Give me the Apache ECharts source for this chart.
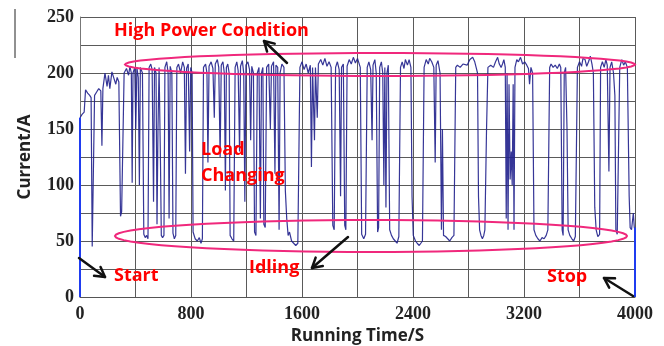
<!DOCTYPE html>
<html>
<head>
<meta charset="utf-8">
<script src="https://cdn.jsdelivr.net/npm/echarts@6/dist/echarts.min.js"></script>
<style>
  html, body { margin: 0; padding: 0; background: #fff; }
  #chart { width: 664px; height: 346px; }
</style>
</head>
<body>
<div id="chart"></div>
<script>
// running time (s) and current (A)
const timeS = [
  0, 15, 30, 40, 55, 70, 80, 88, 95, 105, 120, 135, 150, 158, 165, 180, 195, 205, 215, 230,
  245, 258, 268, 280, 292, 300, 318, 335, 350, 360, 370, 376, 382, 395, 402, 410, 420, 428, 435, 450,
  460, 470, 480, 490, 498, 510, 520, 530, 537, 548, 555, 562, 570, 580, 586, 595, 605, 612, 625, 635,
  642, 650, 662, 670, 680, 690, 698, 710, 725, 740, 752, 760, 768, 780, 790, 798, 808, 815, 830, 845,
  860, 872, 882, 890, 905, 915, 922, 930, 945, 958, 968, 975, 990, 1000, 1010, 1018, 1030, 1040, 1048, 1055,
  1065, 1075, 1082, 1095, 1108, 1118, 1130, 1140, 1150, 1157, 1170, 1180, 1188, 1196, 1210, 1222, 1230, 1238, 1250, 1258,
  1268, 1278, 1290, 1300, 1308, 1318, 1325, 1335, 1345, 1360, 1372, 1380, 1395, 1405, 1412, 1425, 1435, 1442, 1455, 1470,
  1480, 1490, 1500, 1510, 1525, 1540, 1555, 1570, 1585, 1600, 1615, 1630, 1645, 1660, 1668, 1676, 1690, 1697, 1710, 1718,
  1735, 1750, 1765, 1780, 1795, 1810, 1822, 1832, 1842, 1855, 1868, 1878, 1885, 1898, 1908, 1916, 1925, 1940, 1955, 1970,
  1985, 2000, 2010, 2020, 2030, 2045, 2058, 2070, 2082, 2095, 2105, 2112, 2125, 2135, 2145, 2152, 2160, 2172, 2182, 2190,
  2197, 2205, 2212, 2222, 2232, 2245, 2258, 2272, 2285, 2298, 2310, 2322, 2335, 2345, 2360, 2372, 2385, 2393, 2402, 2418,
  2430, 2445, 2458, 2468, 2480, 2495, 2510, 2520, 2535, 2550, 2560, 2567, 2580, 2595, 2605, 2612, 2620, 2635, 2650, 2665,
  2680, 2695, 2708, 2720, 2740, 2760, 2790, 2810, 2830, 2845, 2855, 2865, 2872, 2880, 2890, 2900, 2910, 2918, 2930, 2940,
  2960, 2980, 2995, 3010, 3022, 3035, 3045, 3055, 3065, 3072, 3078, 3085, 3092, 3100, 3108, 3115, 3122, 3128, 3135, 3148,
  3160, 3175, 3190, 3205, 3220, 3232, 3240, 3250, 3262, 3272, 3285, 3300, 3315, 3330, 3345, 3360, 3372, 3385, 3395, 3410,
  3425, 3440, 3455, 3465, 3475, 3482, 3490, 3500, 3510, 3518, 3530, 3545, 3558, 3570, 3585, 3600, 3615, 3625, 3640, 3652,
  3665, 3678, 3690, 3700, 3710, 3720, 3732, 3745, 3752, 3765, 3778, 3790, 3800, 3812, 3820, 3832, 3845, 3855, 3862, 3872,
  3882, 3890, 3905, 3918, 3930, 3945, 3958, 3965, 3975, 3988, 3995, 4000
]
const currentA = [
  160, 163, 165, 185, 182, 180, 178, 45, 46, 180, 183, 186, 184, 135, 186, 200, 188, 198, 186, 201,
  195, 190, 196, 192, 72, 76, 200, 204, 198, 206, 200, 102, 200, 205, 150, 205, 196, 100, 205, 200,
  56, 53, 55, 52, 205, 208, 203, 85, 205, 200, 65, 150, 205, 120, 55, 53, 55, 205, 210, 200,
  70, 206, 200, 57, 52, 55, 205, 208, 200, 210, 205, 110, 204, 208, 130, 205, 200, 58, 52, 50,
  53, 48, 52, 205, 208, 200, 120, 206, 210, 204, 160, 208, 212, 205, 125, 207, 210, 200, 95, 205,
  208, 200, 55, 52, 50, 205, 210, 202, 130, 206, 211, 200, 85, 207, 210, 203, 140, 206, 200, 58,
  55, 200, 205, 70, 200, 205, 65, 62, 205, 208, 150, 206, 210, 110, 207, 205, 60, 200, 208, 205,
  95, 70, 55, 58, 50, 48, 46, 48, 205, 210, 203, 208, 200, 207, 116, 205, 140, 205, 160, 208,
  212, 207, 213, 206, 210, 205, 64, 60, 205, 210, 203, 90, 205, 208, 64, 60, 206, 212, 208, 214,
  209, 213, 213, 205, 56, 52, 56, 205, 210, 203, 140, 207, 212, 200, 58, 62, 205, 210, 200, 100,
  205, 80, 200, 207, 60, 55, 52, 50, 48, 54, 205, 210, 204, 212, 207, 212, 205, 90, 55, 50,
  48, 46, 47, 50, 205, 212, 208, 213, 210, 205, 120, 207, 211, 200, 60, 150, 55, 54, 52, 50,
  53, 55, 205, 207, 205, 208, 207, 212, 214, 210, 205, 200, 90, 60, 55, 52, 55, 60, 150, 205,
  207, 205, 210, 214, 208, 205, 208, 212, 205, 70, 200, 60, 190, 105, 130, 100, 190, 60, 205, 212,
  210, 214, 208, 210, 207, 204, 190, 205, 200, 60, 55, 52, 50, 53, 52, 55, 60, 205, 208, 205,
  207, 204, 208, 205, 60, 55, 200, 205, 150, 60, 55, 52, 50, 54, 205, 210, 206, 213, 212, 206,
  210, 215, 208, 200, 80, 60, 54, 56, 205, 210, 205, 212, 207, 112, 205, 210, 200, 180, 60, 56,
  55, 205, 212, 207, 210, 205, 90, 62, 60, 75, 62, 60
]
// start / stop edges of the run
const startEdge = [[0, 0], [0, 160]]
const stopEdge = [[4000, 0], [4000, 62]]
const xTicks = [0, 800, 1600, 2400, 3200, 4000]
const yTicks = [0, 50, 100, 150, 200, 250]

const trace = timeS.map((t, i) => [t, currentA[i]])

const chart = echarts.init(document.getElementById('chart'))

function ellipse(cx, cy, rx, ry) {
  const pts = []
  for (let i = 0; i < 72; i++) {
    const a = i / 72 * Math.PI * 2
    pts.push([cx + rx * Math.cos(a), cy + ry * Math.sin(a)])
  }
  return {
    type: 'polygon',
    shape: { points: pts },
    style: { fill: 'none', stroke: '#f0287c', lineWidth: 2 },
    z: 100
  }
}

function arrow(x1, y1, x2, y2) {
  const ang = Math.atan2(y2 - y1, x2 - x1)
  const len = 11
  const spread = Math.PI / 6
  const p1 = [x2 - len * Math.cos(ang - spread), y2 - len * Math.sin(ang - spread)]
  const p2 = [x2 - len * Math.cos(ang + spread), y2 - len * Math.sin(ang + spread)]
  const st = { stroke: '#111', lineWidth: 2.5, fill: 'none', lineCap: 'round', lineJoin: 'round' }
  return [
    { type: 'line', shape: { x1: x1, y1: y1, x2: x2, y2: y2 }, style: st, z: 100 },
    { type: 'polyline', shape: { points: [p1, [x2, y2], p2] }, style: st, z: 100 }
  ]
}

function label(text, x, y) {
  return {
    type: 'text',
    x: x,
    y: y,
    style: {
      text: text,
      fill: '#ff0000',
      font: 'bold 18px "Open Sans", sans-serif',
      textVerticalAlign: 'middle'
    },
    z: 101
  }
}

const option = {
  animation: false,
  backgroundColor: '#fff',
  grid: { left: 80, right: 29, top: 17, bottom: 49, outerBoundsMode: 'none', containLabel: false },
  xAxis: {
    type: 'value',
    min: 0,
    max: 4000,
    interval: 400,
    name: 'Running Time/S',
    nameLocation: 'middle',
    nameGap: 31,
    nameTextStyle: { fontFamily: 'Open Sans', fontWeight: 'bold', fontSize: 17, color: '#222' },
    axisLine: { lineStyle: { color: '#555', width: 1 } },
    axisTick: { show: false },
    axisLabel: {
      margin: 8,
      fontFamily: 'Liberation Serif',
      fontWeight: 'bold',
      fontSize: 18,
      color: '#222',
      formatter: v => (xTicks.indexOf(v) >= 0 ? String(v) : '')
    },
    splitLine: { show: true, lineStyle: { color: '#5a5a5a', width: 1 } }
  },
  yAxis: {
    type: 'value',
    min: 0,
    max: 250,
    interval: 25,
    name: 'Current/A',
    nameLocation: 'middle',
    nameGap: 46,
    nameTextStyle: { fontFamily: 'Open Sans', fontWeight: 'bold', fontSize: 17, color: '#222' },
    axisLine: { show: true, lineStyle: { color: '#777', width: 1 } },
    axisTick: { show: false },
    axisLabel: {
      margin: 6,
      fontFamily: 'Liberation Serif',
      fontWeight: 'bold',
      fontSize: 18,
      color: '#222',
      formatter: v => (yTicks.indexOf(v) >= 0 ? String(v) : '')
    },
    splitLine: { show: true, lineStyle: { color: '#5a5a5a', width: 1 } }
  },
  series: [
    {
      type: 'line',
      data: trace,
      showSymbol: false,
      lineStyle: { color: '#20208c', width: 1.2, opacity: 0.9 }
    },
    {
      type: 'line',
      data: startEdge,
      showSymbol: false,
      lineStyle: { color: '#1f3cf0', width: 2 }
    },
    {
      type: 'line',
      data: stopEdge,
      showSymbol: false,
      lineStyle: { color: '#1f3cf0', width: 2 }
    }
  ],
  graphic: [
    ellipse(380, 64.5, 255, 11.5),
    ellipse(371, 236, 256, 16),
    ...arrow(287, 63, 264, 41),
    ...arrow(79, 258, 105, 277),
    ...arrow(348, 237, 312, 268),
    ...arrow(633, 296, 604, 278),
    label('High Power Condition', 114, 31),
    label('Load', 201, 150),
    label('Changing', 201, 176),
    label('Idling', 249, 268),
    label('Start', 114, 276),
    label('Stop', 547, 277),
    {
      type: 'line',
      shape: { x1: 15, y1: 9, x2: 15, y2: 58 },
      style: { stroke: '#222', lineWidth: 1 }
    }
  ]
}

chart.setOption(option)
</script>
</body>
</html>
